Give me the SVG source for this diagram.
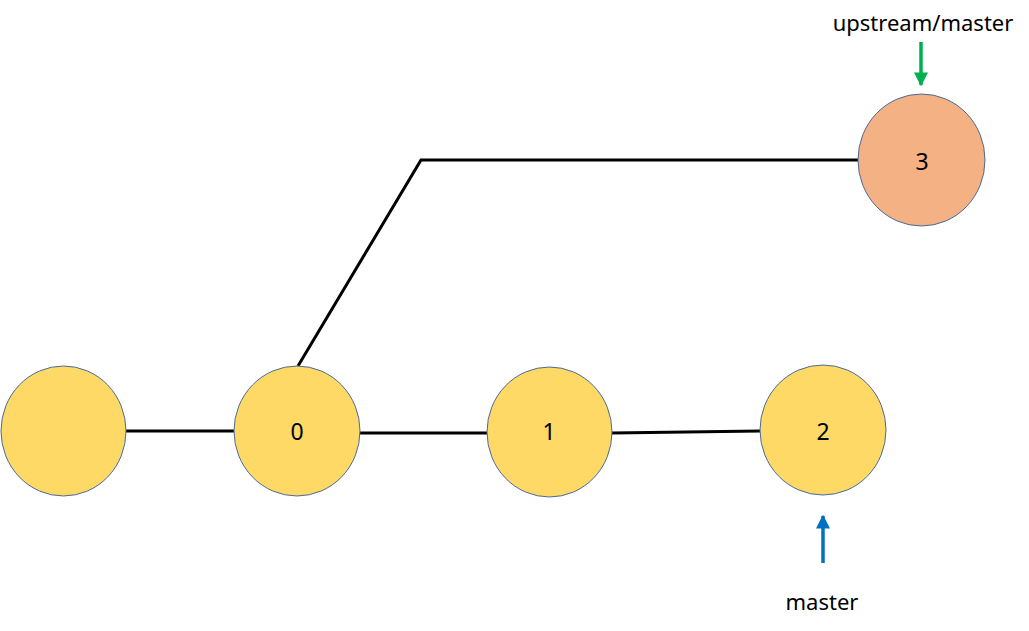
<svg xmlns="http://www.w3.org/2000/svg" width="1029" height="631" viewBox="0 0 1029 631">
<defs>
<style>
.n{stroke:#4A6A9A;stroke-width:1}
.y{fill:#FED966}
.o{fill:#F4B183}
.t{font-family:"Noto Sans","Liberation Sans",sans-serif;font-size:23px;fill:#000;text-anchor:middle}
.l{font-size:22px}
.c{stroke:#000;stroke-width:3;fill:none}
</style>
<marker id="ag" viewBox="0 0 10 10" refX="9" refY="5" markerWidth="4" markerHeight="4" orient="auto" markerUnits="strokeWidth"><path d="M0,0L10,5L0,10z" fill="#00B050"/></marker>
<marker id="ab" viewBox="0 0 10 10" refX="9" refY="5" markerWidth="4" markerHeight="4" orient="auto" markerUnits="strokeWidth"><path d="M0,0L10,5L0,10z" fill="#0070C0"/></marker>
</defs>
<rect width="1029" height="631" fill="#fff"/>
<g id="connectors">
<line class="c" x1="126" y1="431" x2="234" y2="431"/>
<line class="c" x1="358" y1="433" x2="487" y2="433"/>
<line class="c" x1="612" y1="433" x2="760" y2="431"/>
<polyline class="c" points="298,366 421,160 858,160"/>
<line x1="921" y1="42" x2="921" y2="85" stroke="#00B050" stroke-width="3.5" marker-end="url(#ag)"/>
<line x1="823" y1="563" x2="823" y2="516" stroke="#0070C0" stroke-width="3.5" marker-end="url(#ab)"/>
</g>
<g id="node-root"><ellipse class="n y" cx="63.5" cy="431" rx="62.5" ry="65"/></g>
<g id="node-0"><ellipse class="n y" cx="297" cy="431" rx="63" ry="65"/><text class="t" x="297" y="440">0</text></g>
<g id="node-1"><ellipse class="n y" cx="549.5" cy="432" rx="62.5" ry="65"/><text class="t" x="549" y="440">1</text></g>
<g id="node-2"><ellipse class="n y" cx="823" cy="430" rx="63" ry="65"/><text class="t" x="823" y="440">2</text></g>
<g id="node-3"><ellipse class="n o" cx="921.5" cy="160" rx="63.5" ry="66"/><text class="t" x="922" y="170">3</text></g>
<g id="label-upstream"><text class="t l" x="923" y="31">upstream/master</text></g>
<g id="label-master"><text class="t l" x="822" y="610">master</text></g>
</svg>
